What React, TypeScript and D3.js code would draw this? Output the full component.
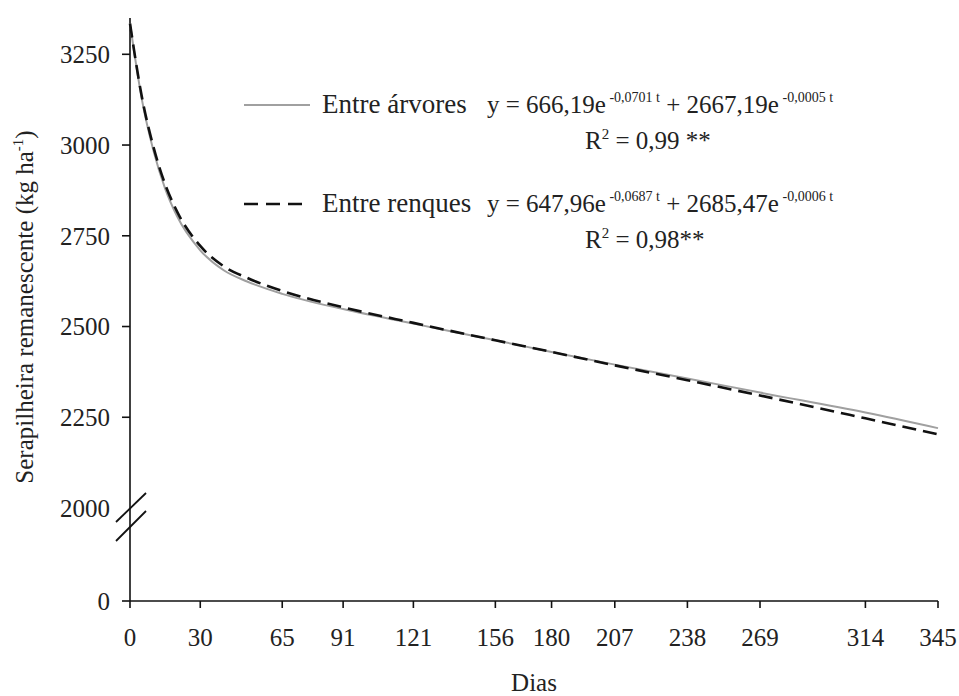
import React from "react";
import * as d3 from "d3";

// values (kg/ha)
const days = [0, 5, 10, 15, 20, 30, 40, 50, 65, 91, 121, 156, 180, 207, 238, 269, 314, 345];
const entreArvores = [3335, 3128, 2985, 2880, 2805, 2710, 2655, 2624, 2590, 2548, 2508, 2462, 2430, 2395, 2357, 2318, 2263, 2220];
const entreRenques = [3335, 3135, 2995, 2892, 2818, 2722, 2666, 2634, 2598, 2553, 2510, 2462, 2430, 2393, 2352, 2310, 2247, 2203];

const xTicks = [0, 30, 65, 91, 121, 156, 180, 207, 238, 269, 314, 345];
const yTicks = [0, 2000, 2250, 2500, 2750, 3000, 3250];

const W = 959, H = 696;
const font = '"Liberation Serif", "Times New Roman", serif';

const App = () => {
  const x = d3.scaleLinear().domain([0, 345]).range([130, 938]);
  // broken axis: 0..2000 squeezed, 2000..3350 stretched
  const y = d3.scaleLinear().domain([0, 2000, 3350]).range([601, 508, 18]);

  const line = (vals: number[]) =>
    d3.line<number>()
      .x((_, i) => x(days[i]))
      .y(d => y(d))
      .curve(d3.curveMonotoneX)(vals) as string;

  const y0 = y(0);
  const yBreak = y(2000);

  return (
    <div>
      <style>{`body{margin:0}`}</style>
      <svg width={W} height={H} style={{ display: "block", background: "#fff", fontFamily: font }}>
        {/* axes */}
        <line x1={x(0)} x2={x(0)} y1={y(3350)} y2={y0} stroke="#111" strokeWidth={1.6} />
        <line x1={x(0)} x2={x(345)} y1={y0} y2={y0} stroke="#111" strokeWidth={1.6} />

        {yTicks.map(t => (
          <g key={"y" + t}>
            {t !== 2000 && (
              <line x1={x(0) - 8} x2={x(0)} y1={y(t)} y2={y(t)} stroke="#111" strokeWidth={1.6} />
            )}
            <text x={110} y={y(t)} dy="0.35em" textAnchor="end" fontSize={25} fill="#222">{t}</text>
          </g>
        ))}

        {/* break marks */}
        <line x1={x(0) - 14} x2={x(0) + 16} y1={yBreak + 14} y2={yBreak - 15} stroke="#111" strokeWidth={1.8} />
        <line x1={x(0) - 14} x2={x(0) + 16} y1={yBreak + 33} y2={yBreak + 3} stroke="#111" strokeWidth={1.8} />

        {xTicks.map(t => (
          <g key={"x" + t}>
            <line x1={x(t)} x2={x(t)} y1={y0} y2={y0 + 7} stroke="#111" strokeWidth={1.6} />
            <text x={x(t)} y={646} textAnchor="middle" fontSize={25} fill="#222">{t}</text>
          </g>
        ))}

        <text x={534} y={691} textAnchor="middle" fontSize={25} fill="#222">Dias</text>
        <text transform="translate(33,307) rotate(-90)" textAnchor="middle" fontSize={25} fill="#222">
          Serapilheira remanescente (kg ha<tspan fontSize={15} dy={-10}>-1</tspan><tspan dy={10}>)</tspan>
        </text>

        {/* curves */}
        <path d={line(entreArvores)} fill="none" stroke="#a0a0a0" strokeWidth={2} />
        <path d={line(entreRenques)} fill="none" stroke="#111" strokeWidth={2.6} strokeDasharray="14,7" />

        {/* legend */}
        <line x1={244} x2={310} y1={105} y2={105} stroke="#a0a0a0" strokeWidth={2} />
        <text x={322} y={113} fontSize={27} fill="#222">Entre árvores</text>
        <text x={487} y={113} fontSize={25} fill="#222">
          y = 666,19e<tspan fontSize={14} dy={-11}> -0,0701 t</tspan>
          <tspan dy={11}> + 2667,19e</tspan><tspan fontSize={14} dy={-11}> -0,0005 t</tspan>
        </text>
        <text x={585} y={149} fontSize={25} fill="#222">
          R<tspan fontSize={15} dy={-10}>2</tspan><tspan dy={10}> = 0,99 **</tspan>
        </text>

        <line x1={244} x2={303} y1={204} y2={204} stroke="#111" strokeWidth={2.6} strokeDasharray="14,8" />
        <text x={322} y={212} fontSize={27} fill="#222">Entre renques</text>
        <text x={487} y={212} fontSize={25} fill="#222">
          y = 647,96e<tspan fontSize={14} dy={-11}> -0,0687 t</tspan>
          <tspan dy={11}>  + 2685,47e</tspan><tspan fontSize={14} dy={-11}> -0,0006 t</tspan>
        </text>
        <text x={585} y={248} fontSize={25} fill="#222">
          R<tspan fontSize={15} dy={-10}>2</tspan><tspan dy={10}> = 0,98**</tspan>
        </text>
      </svg>
    </div>
  );
};

export default App;
